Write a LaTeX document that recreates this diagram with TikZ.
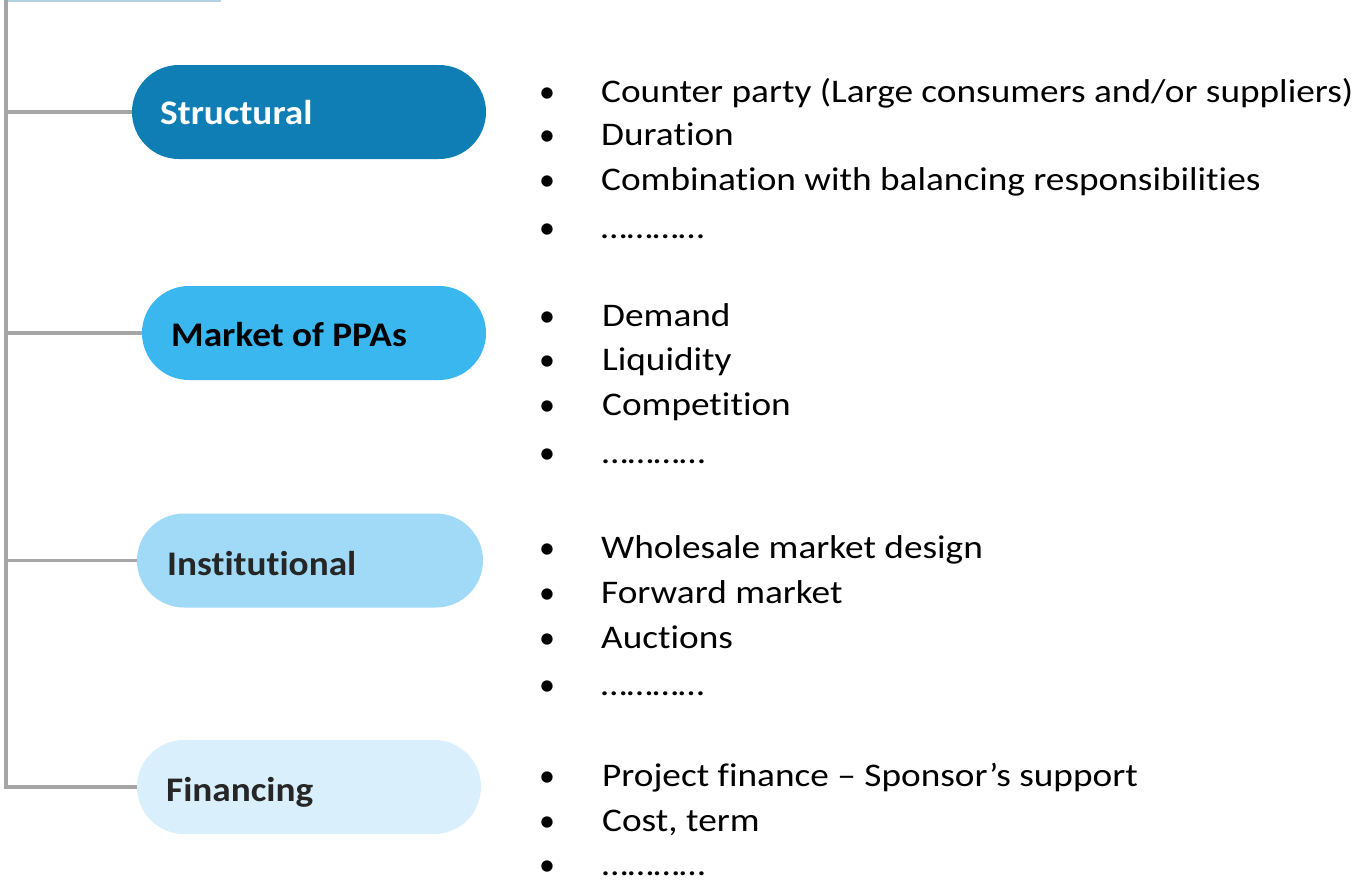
\documentclass[tikz,border=0pt]{standalone}
\usepackage{fontspec}
\setmainfont[Ligatures=NoCommon]{Carlito}
\newfontfamily\bulfont[FakeStretch=1.13,Ligatures=NoCommon]{Carlito}
\newfontfamily\labfont[FakeStretch=1.08,Ligatures=NoCommon]{Carlito}
\definecolor{cA}{HTML}{0E7EB5}
\definecolor{cB}{HTML}{3BB7F0}
\definecolor{cC}{HTML}{A0DAF6}
\definecolor{cD}{HTML}{D9EFFB}
\definecolor{trunk}{HTML}{A6A6A6}
\definecolor{topline}{HTML}{B3D1E1}
\definecolor{darktxt}{HTML}{262626}
\begin{document}
\begin{tikzpicture}[x=1pt,y=-1pt,
  pill/.style={rounded corners=47pt,inner sep=0pt,minimum height=94pt},
  lab/.style={anchor=base west,inner sep=0pt,font=\labfont\fontsize{34.5}{40}\selectfont\bfseries},
  bul/.style={anchor=base,inner sep=0pt,font=\fontsize{32}{38}\selectfont},
  itm/.style={anchor=base west,inner sep=0pt,font=\bulfont\fontsize{33}{39}\selectfont},
  conn/.style={draw=trunk,line width=3.6pt}]
\useasboundingbox (0,0) rectangle (1355,879);
\fill[white] (0,0) rectangle (1355,879);
% top light line
\coordinate (tl0) at (6,0.8);
\coordinate (tl1) at (221,0.8);
\draw[topline,line width=1.6pt] (tl0) -- (tl1);
% boxes
\node[pill,fill=cA,minimum width=354pt] (b1) at (309,112) {};
\node[pill,fill=cB,minimum width=344pt] (b2) at (314,333) {};
\node[pill,fill=cC,minimum width=346pt] (b3) at (310,560.5) {};
\node[pill,fill=cD,minimum width=344pt] (b4) at (309,787) {};
\node[lab,text=white] (l1) at (160,124) {Structural};
\node[lab,text=black] (l2) at (171,346) {Market of PPAs};
\node[lab,text=darktxt] (l3) at (167,575) {Institutional};
\node[lab,text=darktxt] (l4) at (166,801) {Financing};
% trunk and branches
\coordinate (t0) at (6,0);
\coordinate (t1) at (6,112);
\coordinate (t2) at (6,333);
\coordinate (t3) at (6,560.5);
\coordinate (t4) at (6,787);
\draw[conn] (t0) -- (t4) -- (b4.west);
\draw[conn] (t1) -- (b1.west);
\draw[conn] (t2) -- (b2.west);
\draw[conn] (t3) -- (b3.west);
% bullets
\foreach \y/\t [count=\i] in {102/{Counter party (Large consumers and/or suppliers)},145/{Duration},190/{Combination with balancing responsibilities},238/{…………}}{
  \node[bul] (p1\i) at (547,\y) {•};
  \node[itm] (s1\i) at (601,\y) {\t};
}
\foreach \y/\t [count=\i] in {326/{Demand},370/{Liquidity},415/{Competition},463/{…………}}{
  \node[bul] (p2\i) at (547,\y) {•};
  \node[itm] (s2\i) at (602,\y) {\t};
}
\foreach \y/\t [count=\i] in {558/{Wholesale market design},603/{Forward market},648/{Auctions},695/{…………}}{
  \node[bul] (p3\i) at (547,\y) {•};
  \node[itm] (s3\i) at (601,\y) {\t};
}
\foreach \y/\t [count=\i] in {786/{Project finance – Sponsor’s support},831/{Cost, term},875/{…………}}{
  \node[bul] (p4\i) at (547,\y) {•};
  \node[itm] (s4\i) at (602,\y) {\t};
}
\end{tikzpicture}
\end{document}
